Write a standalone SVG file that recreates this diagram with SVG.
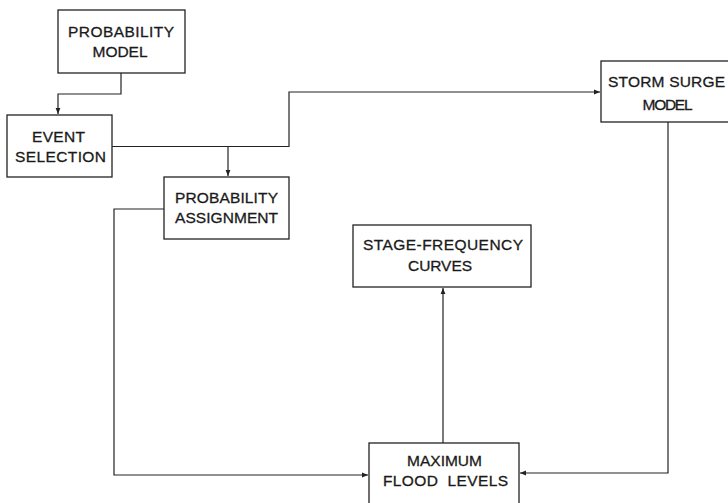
<svg xmlns="http://www.w3.org/2000/svg" width="728" height="503" viewBox="0 0 728 503">
  <defs>
    <marker id="arrow" markerUnits="userSpaceOnUse" markerWidth="7" markerHeight="6" refX="6" refY="3" orient="auto">
      <path d="M0,0.6 L6,3 L0,5.4 Z" fill="#222"/>
    </marker>
    <style>
      .box { fill: #fff; stroke: #222; stroke-width: 1.3; }
      .lbl { font-family: "Liberation Sans", Arial, sans-serif; font-size: 15.5px; fill: #1a1a1a; stroke: #1a1a1a; stroke-width: 0.3; text-anchor: middle; }
      .wire { fill: none; stroke: #222; stroke-width: 1.2; marker-end: url(#arrow); }
    </style>
  </defs>
  <rect width="728" height="503" fill="#fff"/>

  <g id="connectors">
    <path class="wire" d="M121,73 V94 H58 V114"/>
    <path class="wire" d="M112,146.5 H289 V92 H600"/>
    <path class="wire" d="M228,146.5 V176"/>
    <path class="wire" d="M164,209 H114 V475 H368"/>
    <path class="wire" d="M668,122 V473 H520"/>
    <path class="wire" d="M443,443 V288"/>
  </g>

  <g id="probability-model">
    <rect class="box" x="58" y="10" width="127" height="63"/>
    <text class="lbl" x="121" y="37" textLength="106" lengthAdjust="spacing">PROBABILITY</text>
    <text class="lbl" x="120" y="57" textLength="55" lengthAdjust="spacing">MODEL</text>
  </g>

  <g id="event-selection">
    <rect class="box" x="7" y="115" width="105" height="62"/>
    <text class="lbl" x="58.5" y="142" textLength="53" lengthAdjust="spacing">EVENT</text>
    <text class="lbl" x="60.5" y="162" textLength="91" lengthAdjust="spacing">SELECTION</text>
  </g>

  <g id="probability-assignment">
    <rect class="box" x="164" y="177" width="125" height="62"/>
    <text class="lbl" x="226.5" y="203" textLength="103" lengthAdjust="spacing">PROBABILITY</text>
    <text class="lbl" x="226.5" y="223" textLength="103" lengthAdjust="spacing">ASSIGNMENT</text>
  </g>

  <g id="storm-surge-model">
    <rect class="box" x="601" y="61" width="140" height="61"/>
    <text class="lbl" x="666.5" y="87" textLength="117" lengthAdjust="spacing">STORM SURGE</text>
    <text class="lbl" x="667.5" y="110" textLength="50" lengthAdjust="spacing">MODEL</text>
  </g>

  <g id="stage-frequency-curves">
    <rect class="box" x="353" y="225" width="178" height="62"/>
    <text class="lbl" x="443" y="250" textLength="160" lengthAdjust="spacing">STAGE-FREQUENCY</text>
    <text class="lbl" x="440" y="271" textLength="64" lengthAdjust="spacing">CURVES</text>
  </g>

  <g id="maximum-flood-levels">
    <rect class="box" x="369" y="443" width="150" height="70"/>
    <text class="lbl" x="444.5" y="466" textLength="75" lengthAdjust="spacing">MAXIMUM</text>
    <text class="lbl" x="445.5" y="486" textLength="125" lengthAdjust="spacing" xml:space="preserve">FLOOD  LEVELS</text>
  </g>
</svg>
